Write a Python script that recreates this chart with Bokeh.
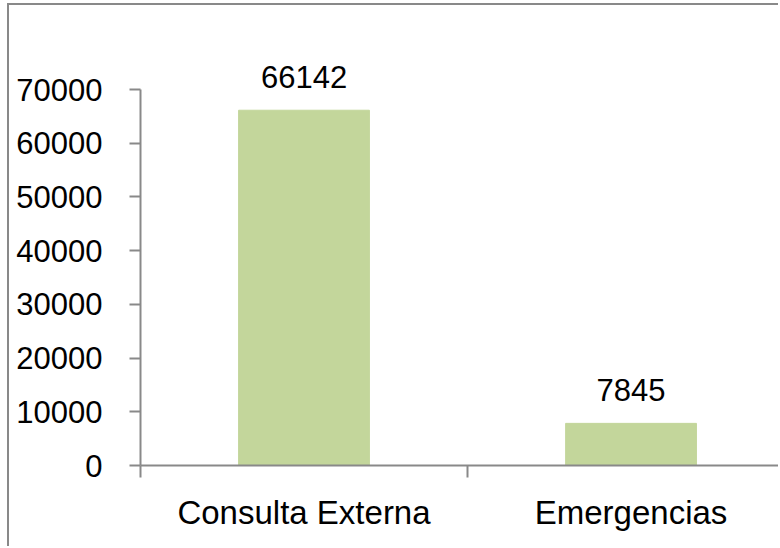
from bokeh.plotting import figure
from bokeh.models import ColumnDataSource, Range1d, FixedTicker
from bokeh.embed import file_html
from bokeh.resources import INLINE
from bokeh.core.properties import value

categories = ["Consulta Externa", "Emergencias"]
values = [66142, 7845]
y_ticks = [0, 10000, 20000, 30000, 40000, 50000, 60000, 70000]

positions = [i + 0.5 for i in range(len(categories))]
src = ColumnDataSource(dict(x=positions, top=values, label=[str(v) for v in values]))

FONT = "Liberation Sans"
GRAY = "#898989"

p = figure(width=771, height=543, output_backend="svg", toolbar_location=None,
           x_range=Range1d(0, 1.957), y_range=Range1d(0, 81915),
           min_border_left=131, min_border_top=20, min_border_bottom=83,
           min_border_right=0)
p.styles = {"margin-top": "3px", "margin-left": "7px",
            "border-top": f"2px solid {GRAY}", "border-left": f"2px solid {GRAY}"}

p.vbar(x="x", top="top", width=0.4, source=src, color="#C3D69B")
p.text(x="x", y="top", text="label", source=src, text_align="center",
       text_baseline="alphabetic", y_offset=-33,
       text_font=value(FONT), text_font_size="31px", text_color="black")

p.grid.visible = False
p.outline_line_color = None

xa = p.xaxis[0]
xa.ticker = FixedTicker(ticks=positions, minor_ticks=list(range(len(categories) + 1)))
xa.major_label_overrides = {pos: cat for pos, cat in zip(positions, categories)}
xa.major_tick_out = 0
xa.major_tick_in = 0
xa.minor_tick_out = 12
xa.minor_tick_in = 0
xa.minor_tick_line_color = GRAY
xa.minor_tick_line_width = 2
xa.axis_line_color = GRAY
xa.axis_line_width = 2
xa.major_label_standoff = 16
xa.major_label_text_font = FONT
xa.major_label_text_font_size = "33px"
xa.major_label_text_color = "black"

ya = p.yaxis[0]
ya.ticker = FixedTicker(ticks=y_ticks, minor_ticks=[])
ya.bounds = (0, 70000)
ya.major_tick_out = 11
ya.major_tick_in = 0
ya.major_tick_line_color = GRAY
ya.major_tick_line_width = 2
ya.axis_line_color = GRAY
ya.axis_line_width = 2
ya.major_label_standoff = 27
ya.major_label_text_font = FONT
ya.major_label_text_font_size = "31px"
ya.major_label_text_color = "black"
ya.formatter.use_scientific = False

open("out.html", "w").write(file_html(p, INLINE))
